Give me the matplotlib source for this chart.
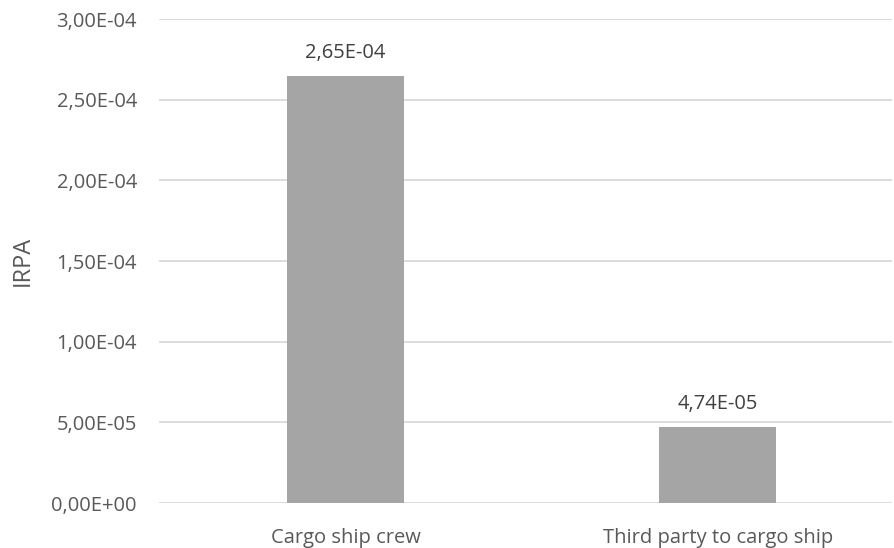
import matplotlib
matplotlib.use("Agg")
import matplotlib.pyplot as plt
from matplotlib.ticker import FuncFormatter

categories = ["Cargo ship crew", "Third party to cargo ship"]
irpa = [2.65e-4, 4.74e-5]
value_labels = ["2,65E-04", "4,74E-05"]

text_color = "#595959"
plt.rcParams["font.family"] = ["Open Sans", "DejaVu Sans"]

fig = plt.figure(figsize=(8.94, 5.48), dpi=100)
ax = fig.add_axes([0.178, 0.082, 0.82, 0.883])


def sci_comma(v, pos):
    s = "%.2E" % v
    return s.replace(".", ",")


x = range(len(categories))
bars = ax.bar(x, irpa, width=0.314, color="#A5A5A5", zorder=3)
for rect, lab in zip(bars, value_labels):
    ax.annotate(lab, (rect.get_x() + rect.get_width() / 2, rect.get_height()),
                xytext=(0, 9), textcoords="offset points",
                ha="center", va="bottom", fontsize=14.5, color="#404040")

ax.set_xlim(-0.501, 1.469)
ax.set_ylim(0, 3e-4)
ax.set_yticks([i * 5e-5 for i in range(7)])
ax.yaxis.set_major_formatter(FuncFormatter(sci_comma))
ax.set_xticks(list(x))
ax.set_xticklabels(categories)
ax.grid(axis="y", color="#D9D9D9", linewidth=1.3, zorder=0)
for s in ax.spines.values():
    s.set_visible(False)
ax.tick_params(axis="both", length=0, labelsize=14.5, labelcolor=text_color)
ax.tick_params(axis="y", pad=16)
ax.tick_params(axis="x", pad=18)
ax.set_ylabel("IRPA", fontsize=17, color=text_color)
ax.yaxis.set_label_coords(-0.17, 0.5)

fig.savefig("out.png", dpi=100)
